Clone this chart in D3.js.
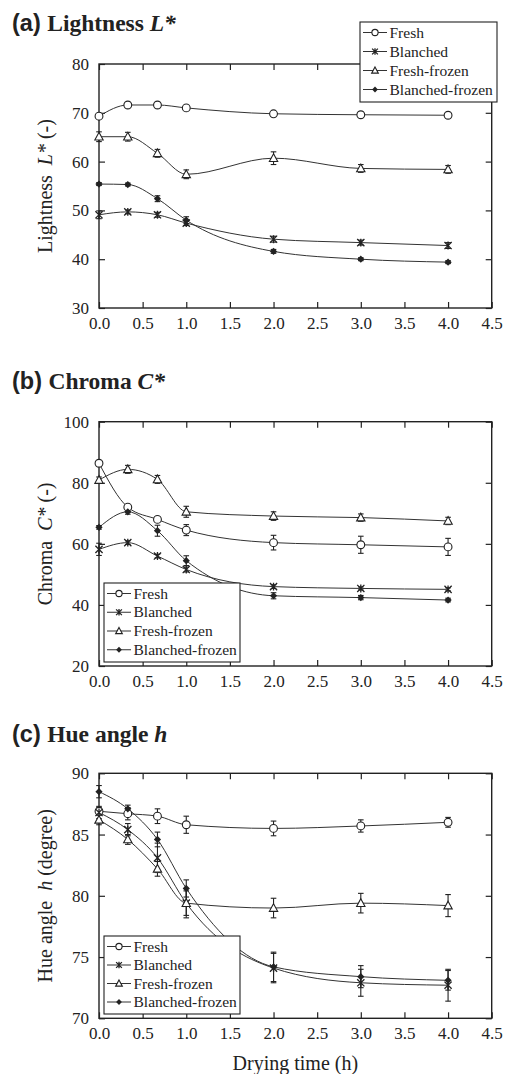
<!DOCTYPE html>
<html>
<head>
<meta charset="utf-8">
<script src="https://cdn.jsdelivr.net/npm/d3@7"></script>
<style>
  body { margin: 0; background: #fff; }
  text { fill: #222; }
  .serif { font-family: 'Liberation Serif', 'DejaVu Serif', 'Times New Roman', Times, serif; }
  .sans { font-family: 'Liberation Sans', Arial, sans-serif; }
</style>
</head>
<body>
<svg id="chart"></svg>
<script>
// drying times (h) and series names
const times = [0, 0.33, 0.67, 1, 2, 3, 4];
const seriesNames = ['Fresh', 'Blanched', 'Fresh-frozen', 'Blanched-frozen'];
const xTicks = [0, 0.5, 1, 1.5, 2, 2.5, 3, 3.5, 4, 4.5];

// (a) lightness L*, one row per series in seriesNames order
const lightnessValues = [
  [69.3, 71.6, 71.6, 71.0, 69.8, 69.6, 69.5],
  [49.1, 49.7, 49.1, 47.4, 44.1, 43.4, 42.8],
  [65.1, 65.1, 61.7, 57.4, 60.7, 58.6, 58.4],
  [55.4, 55.3, 52.4, 48.0, 41.6, 40.0, 39.4]
];
const lightnessErrors = [
  [0.4, 0.3, 0.3, 0.3, 0.3, 0.3, 0.3],
  [0.8, 0.4, 0.5, 0.5, 0.6, 0.5, 0.6],
  [1.0, 0.9, 0.8, 0.9, 1.3, 0.8, 0.8],
  [0.3, 0.3, 0.6, 0.7, 0.4, 0.3, 0.3]
];
const lightnessTicks = [30, 40, 50, 60, 70, 80];

// (b) chroma C*
const chromaValues = [
  [86.4, 72.0, 68.0, 64.5, 60.4, 59.7, 59.0],
  [58.2, 60.4, 56.0, 51.6, 46.0, 45.4, 45.1],
  [80.9, 84.4, 81.1, 70.5, 69.1, 68.6, 67.5],
  [65.4, 70.5, 64.3, 54.5, 43.0, 42.4, 41.6]
];
const chromaErrors = [
  [0.5, 0.8, 0.8, 1.8, 2.4, 2.8, 2.8],
  [2.0, 0.6, 0.6, 0.8, 0.6, 0.5, 0.5],
  [1.0, 1.3, 1.3, 1.8, 1.4, 1.2, 1.2],
  [0.6, 0.8, 1.8, 1.6, 1.0, 0.7, 0.6]
];
const chromaTicks = [20, 40, 60, 80, 100];

// (c) hue angle h
const hueValues = [
  [86.9, 86.7, 86.5, 85.8, 85.5, 85.7, 86.0],
  [86.8, 85.4, 83.1, 79.4, 74.1, 72.9, 72.7],
  [86.2, 84.6, 82.2, 79.4, 79.0, 79.4, 79.2],
  [88.5, 87.1, 84.6, 80.6, 74.2, 73.4, 73.1]
];
const hueErrors = [
  [0.3, 0.5, 0.6, 0.7, 0.6, 0.5, 0.4],
  [0.5, 0.5, 1.2, 1.0, 1.2, 1.1, 1.3],
  [0.4, 0.4, 0.6, 1.2, 0.8, 0.8, 0.9],
  [0.5, 0.3, 0.6, 0.7, 1.2, 0.9, 0.8]
];
const hueTicks = [70, 75, 80, 85, 90];

const width = 505;
const height = 1074;
const ink = '#222';

const svg = d3.select('#chart').attr('width', width).attr('height', height);

const panels = [
  {
    letter: '(a)', name: 'Lightness ', sym: 'L*', titleY: 31,
    top: 64, bottom: 308, values: lightnessValues, errors: lightnessErrors,
    ticks: lightnessTicks, yLabel: ['Lightness  ', 'L*', ' (-)'],
    legend: { x: 360, y: 22, w: 137, h: 80 }, xTitle: false
  },
  {
    letter: '(b)', name: 'Chroma ', sym: 'C*', titleY: 389,
    top: 421.7, bottom: 666, values: chromaValues, errors: chromaErrors,
    ticks: chromaTicks, yLabel: ['Chroma  ', 'C*', ' (-)'],
    legend: { x: 104, y: 583, w: 136, h: 79 }, xTitle: false
  },
  {
    letter: '(c)', name: 'Hue angle ', sym: 'h', titleY: 742,
    top: 773.3, bottom: 1018.3, values: hueValues, errors: hueErrors,
    ticks: hueTicks, yLabel: ['Hue angle  ', 'h', ' (degree)'],
    legend: { x: 104, y: 936, w: 136, h: 78 }, xTitle: true
  }
];

const xScale = d3.scaleLinear().domain([0, 4.5]).range([99, 491.7]);

// marker drawing, s = scale factor
const drawMarker = (g, i, s) => {
  if (i === 0) {
    g.append('circle').attr('r', 3.9 * s)
      .attr('fill', '#fff').attr('stroke', ink).attr('stroke-width', 1.1);
  } else if (i === 1) {
    const a = 3.6 * s;
    g.append('path')
      .attr('d', `M${-a},${-a}L${a},${a}M${-a},${a}L${a},${-a}M0,${-a * 1.1}L0,${a * 1.1}`)
      .attr('stroke', ink).attr('stroke-width', 1.3).attr('fill', 'none');
  } else if (i === 2) {
    const a = 4.4 * s;
    g.append('path')
      .attr('d', `M0,${-a}L${a * 0.95},${a * 0.75}L${-a * 0.95},${a * 0.75}Z`)
      .attr('fill', '#fff').attr('stroke', ink).attr('stroke-width', 1.1);
  } else {
    const a = 3.6 * s;
    g.append('path')
      .attr('d', `M0,${-a}L${a},0L0,${a}L${-a},0Z`)
      .attr('fill', ink);
  }
};

panels.forEach(p => {
  const yScale = d3.scaleLinear().domain(d3.extent(p.ticks)).range([p.bottom, p.top]);
  const body = svg.append('g');

  // title
  const title = svg.append('text')
    .attr('x', 12).attr('y', p.titleY)
    .style('font-size', '23.5px').style('font-weight', 'bold');
  title.append('tspan').attr('class', 'sans').text(p.letter + ' ');
  title.append('tspan').attr('class', 'serif').text(p.name);
  title.append('tspan').attr('class', 'serif').style('font-style', 'italic').text(p.sym);

  // axes with inward ticks
  const xAxis = d3.axisBottom(xScale).tickValues(xTicks)
    .tickFormat(d3.format('.1f')).tickSizeInner(-6).tickSizeOuter(0).tickPadding(9);
  const xTop = d3.axisTop(xScale).tickValues(xTicks)
    .tickFormat('').tickSizeInner(-6).tickSizeOuter(0);
  const yAxis = d3.axisLeft(yScale).tickValues(p.ticks)
    .tickSizeInner(-6).tickSizeOuter(0).tickPadding(10);
  const yRight = d3.axisRight(yScale).tickValues(p.ticks)
    .tickFormat('').tickSizeInner(-6).tickSizeOuter(0);

  const axes = [
    body.append('g').attr('transform', `translate(0,${p.bottom})`).call(xAxis),
    body.append('g').attr('transform', `translate(0,${p.top})`).call(xTop),
    body.append('g').attr('transform', `translate(${xScale(0)},0)`).call(yAxis),
    body.append('g').attr('transform', `translate(${xScale(4.5)},0)`).call(yRight)
  ];
  axes.forEach(a => {
    a.attr('font-family', null).attr('font-size', null);
    a.selectAll('.domain').remove();
    a.selectAll('.tick line').attr('stroke', ink).attr('stroke-width', 1.2);
    a.selectAll('.tick text').attr('class', 'serif').style('font-size', '17px').attr('fill', ink);
  });

  body.append('rect')
    .attr('x', xScale(0)).attr('y', p.top)
    .attr('width', xScale(4.5) - xScale(0)).attr('height', p.bottom - p.top)
    .attr('fill', 'none').attr('stroke', ink).attr('stroke-width', 1.4);

  // y axis label
  const yl = body.append('text')
    .attr('class', 'serif')
    .attr('transform', `translate(52,${(p.top + p.bottom) / 2}) rotate(-90)`)
    .attr('text-anchor', 'middle')
    .style('font-size', '20px')
    .style('white-space', 'pre');
  yl.append('tspan').text(p.yLabel[0]);
  yl.append('tspan').style('font-style', 'italic').text(p.yLabel[1]);
  yl.append('tspan').text(p.yLabel[2]);

  if (p.xTitle) {
    body.append('text')
      .attr('class', 'serif')
      .attr('x', (xScale(0) + xScale(4.5)) / 2).attr('y', 1070)
      .attr('text-anchor', 'middle')
      .style('font-size', '20px')
      .text('Drying time (h)');
  }

  // curves
  const line = d3.line()
    .x((d, i) => xScale(times[i]))
    .y(d => yScale(d))
    .curve(d3.curveMonotoneX);

  body.append('g').selectAll('path')
    .data(p.values)
    .enter()
    .append('path')
    .attr('d', line)
    .attr('fill', 'none')
    .attr('stroke', '#333')
    .attr('stroke-width', 1);

  // error bars and markers
  p.values.forEach((vals, si) => {
    const eg = body.append('g').attr('stroke', ink).attr('stroke-width', 1.1);
    vals.forEach((v, ti) => {
      const e = p.errors[si][ti];
      const cx = xScale(times[ti]);
      const y0 = yScale(v - e);
      const y1 = yScale(v + e);
      eg.append('line').attr('x1', cx).attr('x2', cx).attr('y1', y0).attr('y2', y1);
      eg.append('line').attr('x1', cx - 2.8).attr('x2', cx + 2.8).attr('y1', y0).attr('y2', y0);
      eg.append('line').attr('x1', cx - 2.8).attr('x2', cx + 2.8).attr('y1', y1).attr('y2', y1);
    });
  });
  p.values.forEach((vals, si) => {
    vals.forEach((v, ti) => {
      const m = body.append('g')
        .attr('transform', `translate(${xScale(times[ti])},${yScale(v)})`);
      drawMarker(m, si, 1);
    });
  });

  // legend
  const lg = body.append('g').attr('transform', `translate(${p.legend.x},${p.legend.y})`);
  lg.append('rect')
    .attr('width', p.legend.w).attr('height', p.legend.h)
    .attr('fill', '#fff').attr('stroke', ink).attr('stroke-width', 1.1);
  const rowH = (p.legend.h - 4) / 4;
  seriesNames.forEach((name, i) => {
    const cy = 10.5 + i * rowH;
    const row = lg.append('g').attr('transform', `translate(0,${cy})`);
    row.append('line').attr('x1', 3).attr('x2', 27).attr('y1', 0).attr('y2', 0)
      .attr('stroke', '#333').attr('stroke-width', 1);
    const m = row.append('g').attr('transform', 'translate(15,0)');
    drawMarker(m, i, 0.8);
    row.append('text').attr('class', 'serif').attr('x', 29.5).attr('y', 5)
      .style('font-size', '15.5px')
      .text(name);
  });
});
</script>
</body>
</html>
